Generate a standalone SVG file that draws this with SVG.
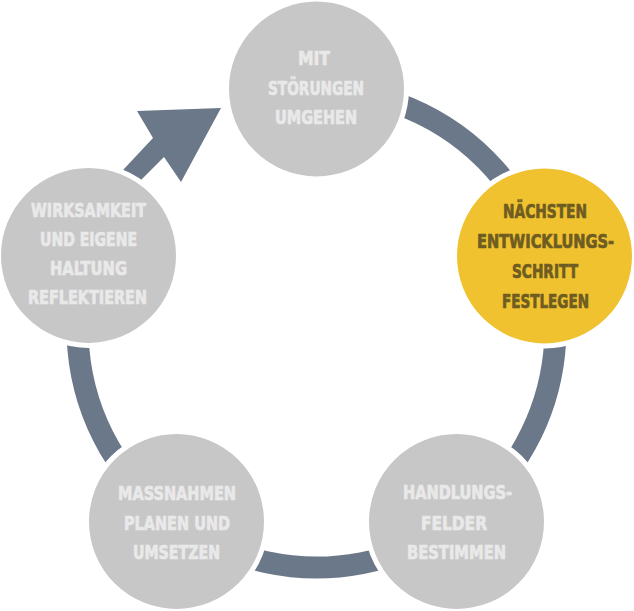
<svg xmlns="http://www.w3.org/2000/svg" width="634" height="611" viewBox="0 0 634 611">
<style>
.ring{fill:none;stroke:#6b7889;stroke-width:22}
.arrow{fill:#6b7889}
.node{stroke:#ffffff;stroke-width:5}
.gray{fill:#c8c7c8}
.yellow{fill:#f1c22f}
text{font-family:"DejaVu Sans","Liberation Sans",sans-serif;font-stretch:condensed;font-weight:bold;font-size:20px;text-anchor:middle;stroke-width:0.7px;stroke-linejoin:round}
.tg{fill:#e9e9e9;stroke:#e9e9e9}
.ty{fill:#6e5c22;stroke:#6e5c22}
</style>
<rect width="634" height="611" fill="#ffffff"/>
<g id="connectors">
<path class="ring" d="M316.5,89.5 A239,239 0 1 1 89.2,254.6"/>
<polygon class="arrow" points="108,186 153,138 137,111 221,108 181,182 164,157 125,196"/>
</g>
<g id="node-top">
<circle class="node gray" cx="316.5" cy="89" r="90"/>
<text class="tg" x="314" y="65" textLength="32" lengthAdjust="spacingAndGlyphs">MIT</text>
<text class="tg" x="316" y="95" textLength="96" lengthAdjust="spacingAndGlyphs">STÖRUNGEN</text>
<text class="tg" x="316" y="124" textLength="82" lengthAdjust="spacingAndGlyphs">UMGEHEN</text>
</g>
<g id="node-right">
<circle class="node yellow" cx="544.5" cy="256" r="90"/>
<text class="ty" x="545" y="218" textLength="84" lengthAdjust="spacingAndGlyphs">NÄCHSTEN</text>
<text class="ty" transform="translate(545.5 248) scale(0.73 1)" x="0" y="0" textLength="188" lengthAdjust="spacingAndGlyphs">ENTWICKLUNGS-</text>
<text class="ty" x="545" y="278" textLength="66" lengthAdjust="spacingAndGlyphs">SCHRITT</text>
<text class="ty" x="545.5" y="308" textLength="87" lengthAdjust="spacingAndGlyphs">FESTLEGEN</text>
</g>
<g id="node-bottom-right">
<circle class="node gray" cx="456.5" cy="521.5" r="90"/>
<text class="tg" x="457.5" y="499" textLength="109" lengthAdjust="spacingAndGlyphs">HANDLUNGS-</text>
<text class="tg" x="454" y="530" textLength="66" lengthAdjust="spacingAndGlyphs">FELDER</text>
<text class="tg" x="456.5" y="559" textLength="99" lengthAdjust="spacingAndGlyphs">BESTIMMEN</text>
</g>
<g id="node-bottom-left">
<circle class="node gray" cx="176.5" cy="521.5" r="90"/>
<text class="tg" x="177" y="500" textLength="118" lengthAdjust="spacingAndGlyphs">MASSNAHMEN</text>
<text class="tg" x="177" y="530" textLength="106" lengthAdjust="spacingAndGlyphs">PLANEN UND</text>
<text class="tg" x="176.5" y="559" textLength="87" lengthAdjust="spacingAndGlyphs">UMSETZEN</text>
</g>
<g id="node-left">
<circle class="node gray" cx="88.5" cy="255.5" r="90"/>
<text class="tg" x="88.5" y="217" textLength="115" lengthAdjust="spacingAndGlyphs">WIRKSAMKEIT</text>
<text class="tg" x="88.5" y="246" textLength="97" lengthAdjust="spacingAndGlyphs">UND EIGENE</text>
<text class="tg" x="88.5" y="275" textLength="77" lengthAdjust="spacingAndGlyphs">HALTUNG</text>
<text class="tg" x="87.5" y="304" textLength="119" lengthAdjust="spacingAndGlyphs">REFLEKTIEREN</text>
</g>
</svg>
